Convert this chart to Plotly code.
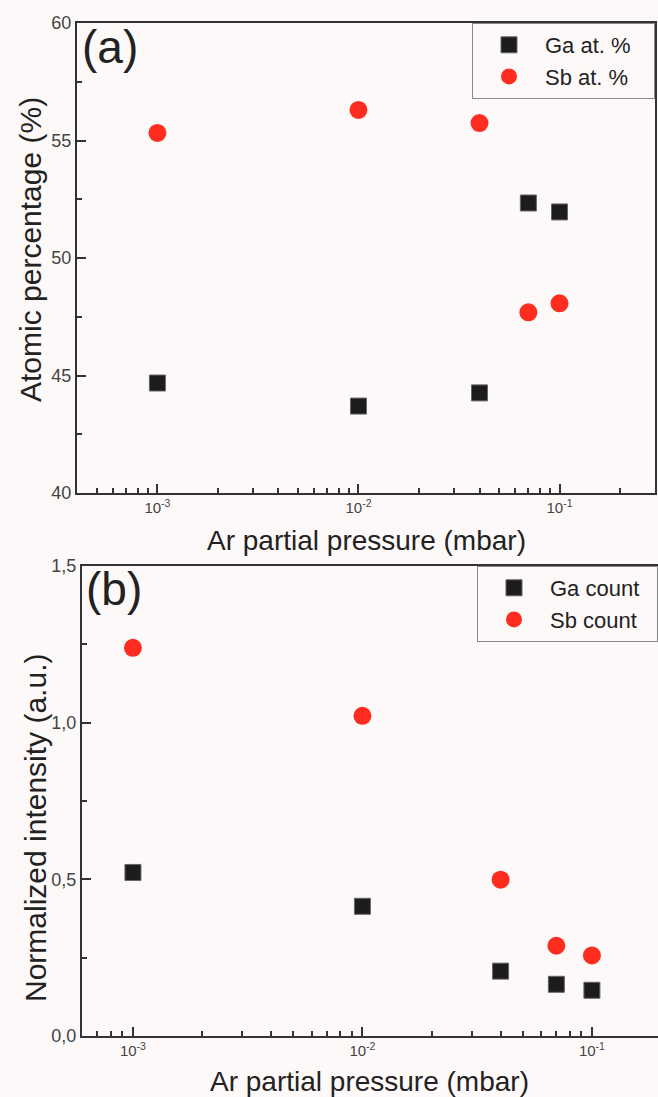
import plotly.graph_objects as go

# ---- data ----
pressure = [1e-3, 1e-2, 4e-2, 7e-2, 1e-1]          # Ar partial pressure (mbar)
ga_at = [44.68, 43.70, 44.26, 52.34, 51.96]         # Ga at. %
sb_at = [55.32, 56.30, 55.74, 47.69, 48.07]         # Sb at. %
ga_count = [0.522, 0.414, 0.207, 0.165, 0.146]      # Ga count (normalized)
sb_count = [1.239, 1.022, 0.499, 0.288, 0.257]      # Sb count (normalized)
xtick_vals = [1e-3, 1e-2, 1e-1]
xtick_text = ["10<sup>-3</sup>", "10<sup>-2</sup>", "10<sup>-1</sup>"]
ya_ticks = [40, 45, 50, 55, 60]
yb_ticks = [0.0, 0.5, 1.0, 1.5]

W, H = 658, 1097
def px(x):
    return x / W
def py(y):
    return 1 - y / H

FONT = "Arial, Liberation Sans, sans-serif"
BG = "#fdf9f8"
BLACK = "#1c1c1a"
RED = "#ff2d20"
AX = "#333333"
NB = "\u00a0"

minor_x = [d * 10.0 ** e for e in range(-4, 0) for d in range(2, 10)]

fig = go.Figure()
fig.add_trace(go.Scatter(x=pressure, y=ga_at, mode="markers", name="Ga at. %" + NB * 3,
                         marker=dict(symbol="square", size=16, color=BLACK,
                                     line=dict(color="#666", width=1)),
                         xaxis="x", yaxis="y", legend="legend"))
fig.add_trace(go.Scatter(x=pressure, y=sb_at, mode="markers", name="Sb at. %" + NB * 3,
                         marker=dict(symbol="circle", size=18, color=RED, line=dict(width=0)),
                         xaxis="x", yaxis="y", legend="legend"))
fig.add_trace(go.Scatter(x=pressure, y=ga_count, mode="markers", name="Ga count" + NB * 2,
                         marker=dict(symbol="square", size=16, color=BLACK,
                                     line=dict(color="#666", width=1)),
                         xaxis="x2", yaxis="y2", legend="legend2"))
fig.add_trace(go.Scatter(x=pressure, y=sb_count, mode="markers", name="Sb count" + NB * 2,
                         marker=dict(symbol="circle", size=18, color=RED, line=dict(width=0)),
                         xaxis="x2", yaxis="y2", legend="legend2"))

common_x = dict(type="log", showgrid=False, zeroline=False, showline=True, automargin=False,
                linecolor=AX, linewidth=2, ticks="inside", ticklen=9, tickwidth=2,
                tickcolor=AX, tickmode="array", tickvals=xtick_vals, ticktext=xtick_text,
                tickfont=dict(family=FONT, size=15, color="#444"),
                minor=dict(ticks="inside", ticklen=5, tickwidth=1.5, tickcolor=AX,
                           tickmode="array", tickvals=minor_x, showgrid=False))
common_y = dict(showgrid=False, zeroline=False, showline=True, automargin=False,
                linecolor=AX, linewidth=2, ticks="inside", ticklen=9, tickwidth=2,
                tickcolor=AX, tickfont=dict(family=FONT, size=18, color="#444"),
                minor=dict(ticks="inside", ticklen=5, tickwidth=1.5, tickcolor=AX, showgrid=False))

fig.update_layout(
    width=W, height=H, margin=dict(l=0, r=0, t=0, b=0, autoexpand=False),
    paper_bgcolor=BG, plot_bgcolor=BG, separators=",.",
    font=dict(family=FONT, color="#222"),
    xaxis=dict(common_x, domain=[px(77), px(655)], range=[-3.4, -0.525],
               anchor="y", mirror=True),
    yaxis=dict(common_y, domain=[py(493), py(23)], range=[40, 60], anchor="x",
               tickmode="array", tickvals=ya_ticks, mirror=True,
               minor=dict(common_y["minor"], dtick=2.5)),
    xaxis2=dict(common_x, domain=[px(82), 1.0], range=[-3.222, -0.712],
                anchor="y2", mirror=True),
    yaxis2=dict(common_y, domain=[py(1036), py(566)], range=[0, 1.5], anchor="x2",
                tickmode="array", tickvals=yb_ticks, tickformat=".1f",
                minor=dict(common_y["minor"], dtick=0.25)),
    legend=dict(x=px(655), xanchor="right", y=py(23), yanchor="top",
                bgcolor="rgba(0,0,0,0)", bordercolor="#888", borderwidth=1,
                font=dict(family=FONT, size=22, color="#222"), itemwidth=62,
                tracegroupgap=0),
    legend2=dict(x=1.0, xanchor="right", y=py(566), yanchor="top",
                 bgcolor="rgba(0,0,0,0)", bordercolor="#888", borderwidth=1,
                 font=dict(family=FONT, size=22, color="#222"), itemwidth=62,
                 tracegroupgap=0),
    showlegend=True,
)

ann = [
    dict(text="(a)", x=px(80), y=py(19), xanchor="left", yanchor="top", size=46),
    dict(text="(b)", x=px(84), y=py(561), xanchor="left", yanchor="top", size=46),
    dict(text="Atomic percentage (%)", x=px(30), y=py(250), xanchor="center",
         yanchor="middle", size=30, angle=-90),
    dict(text="Ar partial pressure (mbar)", x=px(366), y=py(540), xanchor="center",
         yanchor="middle", size=28),
    dict(text="Normalized intensity (a.u.)", x=px(35), y=py(828), xanchor="center",
         yanchor="middle", size=30, angle=-90),
    dict(text="Ar partial pressure (mbar)", x=px(369), y=py(1081), xanchor="center",
         yanchor="middle", size=28),
]
for a in ann:
    fig.add_annotation(text=a["text"], x=a["x"], y=a["y"], xref="paper", yref="paper",
                       xanchor=a["xanchor"], yanchor=a["yanchor"], showarrow=False,
                       textangle=a.get("angle", 0),
                       font=dict(family=FONT, size=a["size"], color="#222"))

fig.write_html("out.html")
